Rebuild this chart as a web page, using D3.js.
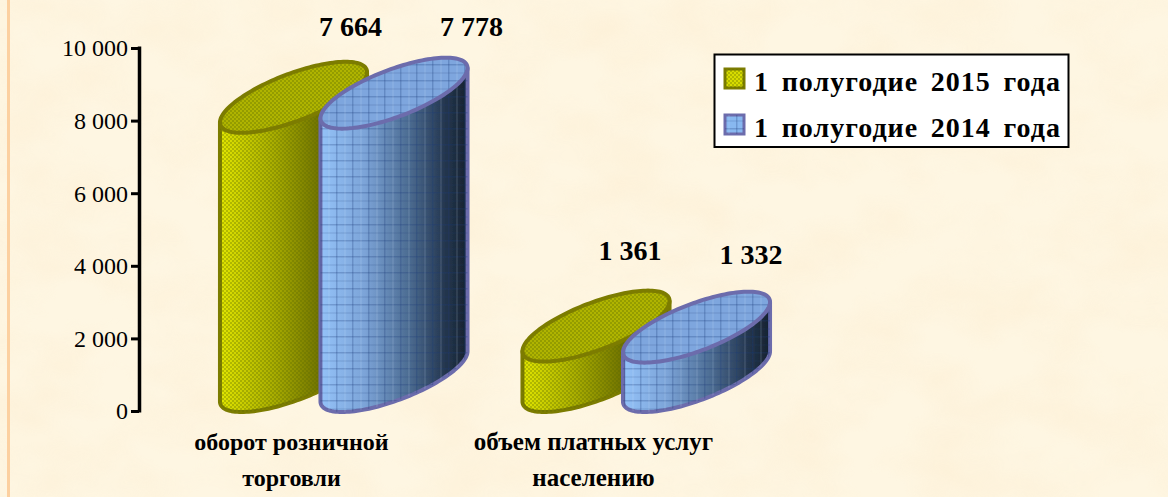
<!DOCTYPE html>
<html><head><meta charset="utf-8">
<script src="https://cdn.jsdelivr.net/npm/d3@7/dist/d3.min.js"></script>
<style>html,body{margin:0;padding:0;background:#fdf4de}svg{display:block}text{font-family:"Liberation Serif",serif;fill:#000}</style>
</head><body><svg id="c" width="1168" height="497"></svg>
<script>
const categories = ["оборот розничной|торговли", "объем платных услуг|населению"];
const seriesNames = ["1 полугодие 2015 года", "1 полугодие 2014 года"];
const values2015 = [7664, 1361];
const values2014 = [7778, 1332];
const labels2015 = ["7 664", "1 361"];
const labels2014 = ["7 778", "1 332"];
const tickValues = [0, 2000, 4000, 6000, 8000, 10000];

const svg = d3.select("#c");
const defs = svg.append("defs");

// paper texture
const paper = defs.append("filter").attr("id","paper").attr("x",0).attr("y",0).attr("width","100%").attr("height","100%");
paper.append("feTurbulence").attr("type","fractalNoise").attr("baseFrequency","0.012 0.018").attr("numOctaves",3).attr("seed",7);
paper.append("feColorMatrix").attr("type","matrix").attr("values","0 0 0 0 0.98  0 0 0 0 0.86  0 0 0 0 0.66  1.8 0 0 0 -0.65");
svg.append("rect").attr("width",1168).attr("height",497).attr("fill","#fef6e2");
svg.append("rect").attr("width",1168).attr("height",497).attr("filter","url(#paper)").attr("opacity",0.65);
svg.append("rect").attr("x",7).attr("y",0).attr("width",3).attr("height",497).attr("fill","#fcd0a0");

const soft = defs.append("filter").attr("id","soft").attr("x","-5%").attr("y","-5%").attr("width","110%").attr("height","110%");
soft.append("feGaussianBlur").attr("stdDeviation",0.45);

const y = d3.scaleLinear().domain([0,10000]).range([411,48]);
const x0 = d3.scaleBand().domain(categories).range([192.5,797.5]);
const x1 = d3.scaleBand().domain([0,1]).range([-100.5,100.5]);

// gradients
function grad(id, stops){
  const g = defs.append("linearGradient").attr("id",id).attr("x1",0).attr("x2",1).attr("y1",0).attr("y2",0);
  stops.forEach(s=>g.append("stop").attr("offset",s[0]).attr("stop-color",s[1]));
}
grad("gGreen",[[0,"#e2e600"],[0.35,"#acb000"],[0.7,"#6d6f00"],[1,"#4a4c00"]]);
grad("gBlue",[[0,"#94c2f8"],[0.3,"#7ca4d8"],[0.6,"#4c6c92"],[0.85,"#24364e"],[1,"#16222f"]]);

// fine patterns
const pd = defs.append("pattern").attr("id","pDots").attr("width",4).attr("height",4).attr("patternUnits","userSpaceOnUse");
pd.append("rect").attr("width",2).attr("height",2).attr("fill","#5a6a00").attr("opacity",0.32);
pd.append("rect").attr("x",2).attr("y",2).attr("width",2).attr("height",2).attr("fill","#5a6a00").attr("opacity",0.32);
const pg = defs.append("pattern").attr("id","pGrid").attr("width",16).attr("height",16).attr("patternUnits","userSpaceOnUse");
pg.append("rect").attr("width",16).attr("height",1.5).attr("fill","#1c3a78").attr("opacity",0.26);
pg.append("rect").attr("width",1.5).attr("height",16).attr("fill","#1c3a78").attr("opacity",0.26);
pg.append("rect").attr("x",8).attr("width",2).attr("height",16).attr("fill","#dcecff").attr("opacity",0.10);
pg.append("rect").attr("y",8).attr("width",16).attr("height",2).attr("fill","#1c3a78").attr("opacity",0.10);

// skewed elliptical cross-section
const W = 104, DX = 104, DY = 71;
const tExt = Math.atan2(DX, W);
const line = d3.line();
const pt = (cx, front, t) => [cx + Math.cos(t)*W/2 + Math.sin(t)*DX/2, front - DY/2 - Math.sin(t)*DY/2];
const ring = (cx, front) => line(d3.range(0,144).map(i=>pt(cx,front,i*Math.PI/72))) + "Z";
function bodyPath(cx, topY, baseY){
  const lower = d3.range(0,73).map(i=> pt(cx, baseY, Math.PI + tExt + i*Math.PI/72));
  const a = pt(cx, topY, tExt), b = pt(cx, topY, Math.PI + tExt);
  return line([b, ...lower, a]) + "Z";
}

function cyl(cx, v, fillGrad, pattern, top, stroke){
  const g = svg.append("g").attr("filter","url(#soft)");
  const topY = y(v), baseY = y(0) + 1;
  const d = bodyPath(cx, topY, baseY);
  g.append("path").attr("d",d).attr("fill",`url(#${fillGrad})`).attr("stroke",stroke).attr("stroke-width",4).attr("stroke-linejoin","round");
  g.append("path").attr("d",d).attr("fill",`url(#${pattern})`);
  const r = ring(cx, topY);
  g.append("path").attr("d",r).attr("fill",top);
  g.append("path").attr("d",r).attr("fill",`url(#${pattern})`).attr("stroke",stroke).attr("stroke-width",4);
}
categories.forEach((c,i)=>{
  const cc = x0(c) + x0.bandwidth()/2;
  cyl(cc + x1(0) + x1.bandwidth()/2, values2015[i], "gGreen","pDots","#b0b400","#7c7c00");
  cyl(cc + x1(1) + x1.bandwidth()/2, values2014[i], "gBlue","pGrid","#7ea6de","#6c6cac");
});

// axis
const axis = d3.axisLeft(y).tickValues(tickValues).tickSizeInner(8).tickSizeOuter(0).tickPadding(3)
  .tickFormat(d=>d3.format(",")(d).replace(",", " "));
const ag = svg.append("g").attr("transform","translate(139,0)").call(axis);
ag.select(".domain").attr("stroke","#000").attr("stroke-width",3.5).attr("d",`M0.5,${y(10000)-1.5}V${y(0)+1.5}`);
ag.selectAll(".tick line").attr("stroke","#000").attr("stroke-width",3);
ag.selectAll(".tick text").attr("font-size",24).attr("font-family","Liberation Serif").attr("fill","#000").attr("dy","0.33em");

// value labels
const lab = [[350.5,630],[471.5,751]];
const labY = [[36,260],[36,264]];
categories.forEach((c,i)=>{
  [labels2015,labels2014].forEach((l,s)=>{
    svg.append("text").attr("x", lab[s][i]).attr("y", labY[s][i]).attr("text-anchor","middle")
      .attr("font-size",28).attr("font-weight","bold").text(l[i]);
  });
});

// category labels
const catX = [291.5,593.5];
const catSize = [24,25];
categories.forEach((c,i)=>{
  c.split("|").forEach((t,j)=>{
    svg.append("text").attr("x",catX[i]).attr("y",450+j*36).attr("text-anchor","middle")
      .attr("font-size",catSize[i]).attr("font-weight","bold").text(t);
  });
});

// legend
svg.append("rect").attr("x",714.5).attr("y",54.5).attr("width",354).attr("height",92.5).attr("fill","#fff").attr("stroke","#000").attr("stroke-width",2);
const sw = [["pDots","#7c7c00",79,"#d8dc00"],["pGrid","#6c6cac",125,"#88b8f0"]];
sw.forEach((s,i)=>{
  svg.append("rect").attr("x",725).attr("y",s[2]-10).attr("width",19).attr("height",19).attr("fill",s[3]).attr("stroke",s[1]).attr("stroke-width",3);
  svg.append("rect").attr("x",725).attr("y",s[2]-10).attr("width",19).attr("height",19).attr("fill",`url(#${s[0]})`);
  svg.append("text").attr("x",754).attr("y",s[2]+12).attr("font-size",28).attr("font-weight","bold").attr("word-spacing",4.7).attr("letter-spacing",1).text(seriesNames[i]);
});
</script></body></html>
